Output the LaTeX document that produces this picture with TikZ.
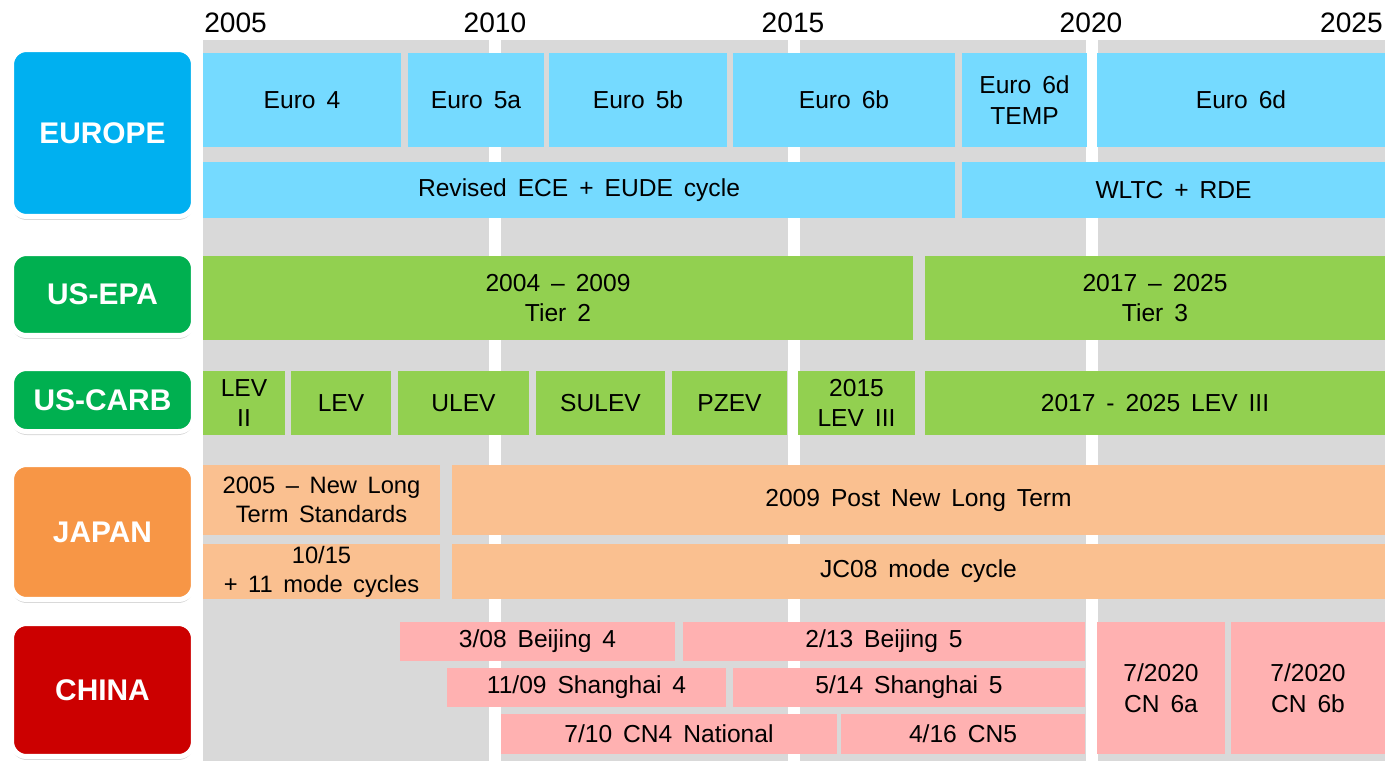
\documentclass[tikz,border=0pt]{standalone}
\usepackage{fontspec}
\setmainfont{Liberation Sans}[WordSpace=1.6]
\usetikzlibrary{shadows}

\definecolor{eublue}{HTML}{00B0F0}
\definecolor{eulight}{HTML}{75DAFF}
\definecolor{usgreen}{HTML}{00B050}
\definecolor{uslight}{HTML}{92D050}
\definecolor{jporange}{HTML}{F79646}
\definecolor{jplight}{HTML}{FAC090}
\definecolor{cnred}{HTML}{CC0000}
\definecolor{cnlight}{HTML}{FFB1B1}
\definecolor{bggray}{HTML}{D9D9D9}

\tikzset{
  region/.style={draw=white, line width=0.1cm, rounded corners=0.3cm, inner sep=0pt,
    minimum width=3.64cm, text=white, font=\fontsize{17}{20}\selectfont\bfseries,
    drop shadow={shadow xshift=0pt, shadow yshift=-0.07cm, opacity=0.3}},
  bar/.style={inner sep=0pt, align=center, font=\fontsize{14}{17.5}\selectfont},
  yearlabel/.style={font=\fontsize{16}{19}\selectfont, inner sep=0pt},
}

\begin{document}
\begin{tikzpicture}[x=0.02cm, y=-0.02cm]

\useasboundingbox (0,0) rectangle (1389,761);

% fond gris et lignes des années
\fill[bggray] (203,40) rectangle (1385,761);
\foreach \xs in {489,788,1086} {
    \fill[white] (\xs,40) rectangle ++(12,721);
}

% années
\node[yearlabel, anchor=base west] (y2005) at (204,32) {2005};
\foreach \yr/\xs in {2010/495, 2015/793, 2020/1091} {
    \node[yearlabel, anchor=base] (y\yr) at (\xs,32) {\yr};
}
\node[yearlabel, anchor=base east] (y2025) at (1383,32) {2025};

% régions
\node[region, fill=eublue, minimum height=3.34cm] (europe) at (102.5,133) {EUROPE};
\node[region, fill=usgreen, minimum height=1.64cm] (usepa) at (102.5,294.5) {US-EPA};
\node[region, fill=usgreen, minimum height=1.26cm] (uscarb) at (102.5,400) {US-CARB};
\node[region, fill=jporange, minimum height=2.70cm] (japan) at (102.5,532) {JAPAN};
\node[region, fill=cnred, minimum height=2.66cm] (china) at (102.5,690) {CHINA};

% Europe
\foreach \nm/\xa/\xb/\txt in {euA/203/401/{Euro 4}, euB/408/544/{Euro 5a},
    euC/549/727/{Euro 5b}, euD/733/955/{Euro 6b}, euE/962/1087/{Euro 6d\\TEMP},
    euF/1097/1385/{Euro 6d}} {
    \node[bar, fill=eulight, minimum width={(\xb-\xa)*0.02cm}, minimum height=1.88cm]
        (\nm) at ({(\xa+\xb)/2},100) {\txt};
}
\foreach \nm/\xa/\xb/\txt in {cycA/203/955/{Revised ECE + EUDE cycle},
    cycB/962/1385/{WLTC + RDE}} {
    \node[bar, fill=eulight, minimum width={(\xb-\xa)*0.02cm}, minimum height=1.12cm]
        (\nm) at ({(\xa+\xb)/2},190) {\txt};
}

% US-EPA
\foreach \nm/\xa/\xb/\txt in {tierA/203/913/{2004 – 2009\\Tier 2},
    tierB/925/1385/{2017 – 2025\\Tier 3}} {
    \node[bar, fill=uslight, minimum width={(\xb-\xa)*0.02cm}, minimum height=1.68cm]
        (\nm) at ({(\xa+\xb)/2},298) {\txt};
}

% US-CARB
\foreach \nm/\xa/\xb/\txt in {levA/203/285/{LEV\\II}, levB/291/391/{LEV},
    levC/398/529/{ULEV}, levD/536/665/{SULEV}, levE/672/787/{PZEV},
    levF/798/915/{2015\\LEV III}, levG/925/1385/{2017 - 2025 LEV III}} {
    \node[bar, fill=uslight, minimum width={(\xb-\xa)*0.02cm}, minimum height=1.28cm]
        (\nm) at ({(\xa+\xb)/2},403) {\txt};
}

% Japan
\node[bar, fill=jplight, minimum width=4.74cm, minimum height=1.4cm,
    font=\fontsize{13.5}{16.5}\selectfont] (jpA) at (321.5,500)
    {2005 – New Long\\Term Standards};
\node[bar, fill=jplight, minimum width=18.66cm, minimum height=1.4cm]
    (jpB) at (918.5,500) {2009 Post New Long Term};
\node[bar, fill=jplight, minimum width=4.74cm, minimum height=1.1cm,
    font=\fontsize{13.5}{16.5}\selectfont] (jpC) at (321.5,571.5)
    {10/15\\+ 11 mode cycles};
\node[bar, fill=jplight, minimum width=18.66cm, minimum height=1.1cm]
    (jpD) at (918.5,571.5) {JC08 mode cycle};

% China
\foreach \nm/\xa/\xb/\yc/\txt in {cnA/400/675/641.5/{3/08 Beijing 4},
    cnB/683/1085/641.5/{2/13 Beijing 5}, cnC/447/726/687.5/{11/09 Shanghai 4},
    cnD/733/1085/687.5/{5/14 Shanghai 5}, cnE/501/837/734/{7/10 CN4 National},
    cnF/841/1085/734/{4/16 CN5}} {
    \node[bar, fill=cnlight, minimum width={(\xb-\xa)*0.02cm}, minimum height=0.79cm]
        (\nm) at ({(\xa+\xb)/2},\yc) {\txt};
}
\foreach \nm/\xa/\xb/\txt in {cnG/1097/1225/{7/2020\\CN 6a}, cnH/1231/1385/{7/2020\\CN 6b}} {
    \node[bar, fill=cnlight, minimum width={(\xb-\xa)*0.02cm}, minimum height=2.64cm]
        (\nm) at ({(\xa+\xb)/2},688) {\txt};
}

\end{tikzpicture}
\end{document}
